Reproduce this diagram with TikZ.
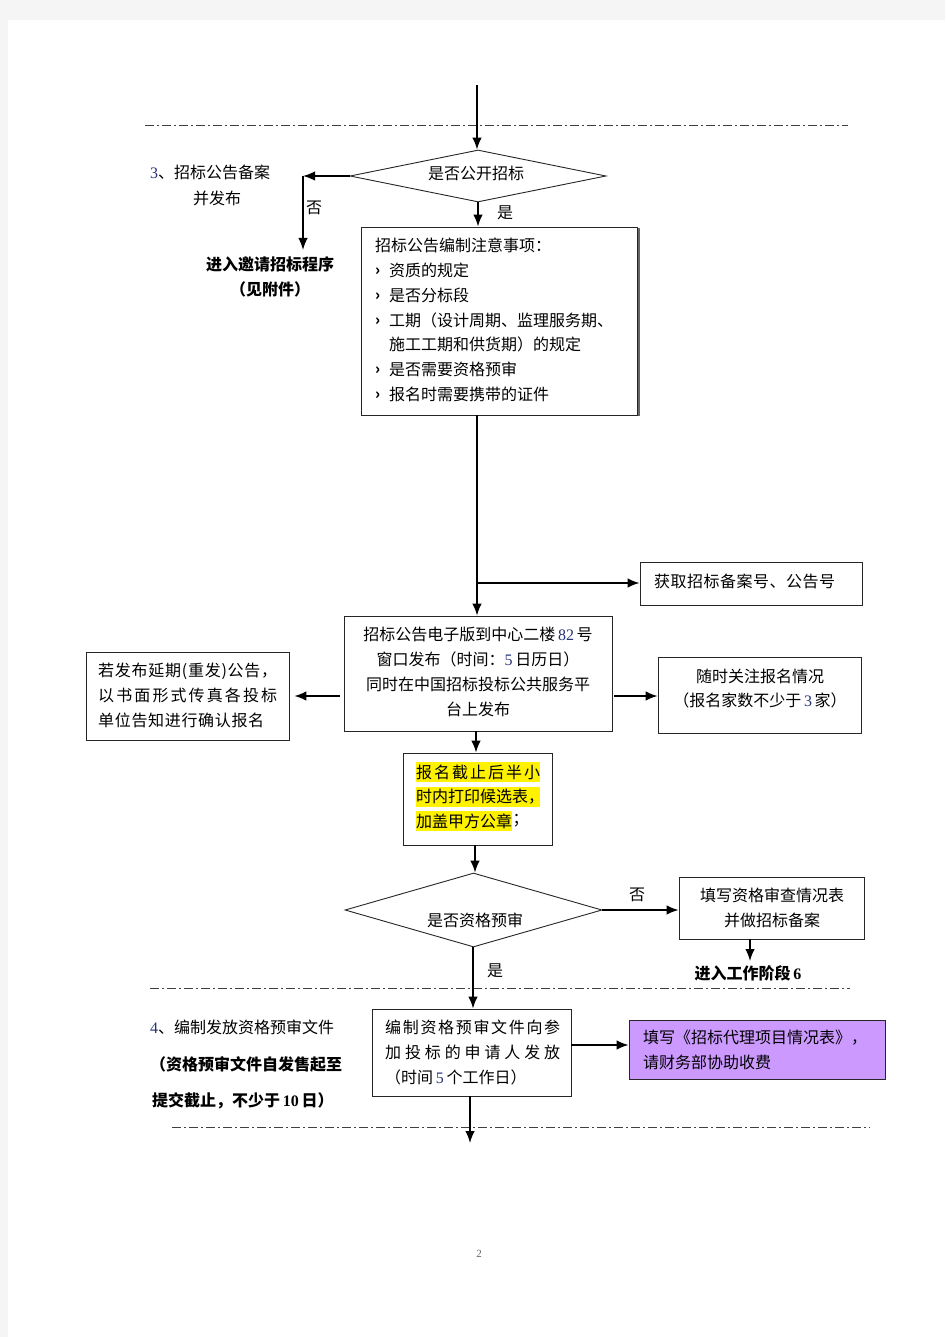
\documentclass[tikz,border=0pt]{standalone}
\usepackage{fontspec}
\setmainfont{Noto Sans CJK SC}
\newfontfamily\tnr{Liberation Serif}
\usetikzlibrary{arrows.meta,shapes.geometric}
\definecolor{numcol}{RGB}{40,50,120}
\definecolor{purp}{RGB}{204,153,255}
\newcommand\nm[1]{{\tnr\color{numcol}#1}}
\def\spr#1{\sprloop#1\relax}
\def\sprloop#1{\ifx#1\relax\else#1\expandafter\sprnext\fi}
\def\sprnext#1{\ifx#1\relax\else\hfill#1\expandafter\sprnext\fi}
\newcommand\J[2]{\makebox[#1][s]{\spr{#2}}}
\newcommand\bul{\makebox[14pt][l]{\raisebox{0.5pt}{\fontsize{15}{15}\selectfont\bfseries ›}}}
\begin{document}
\begin{tikzpicture}[x=1pt,y=-1pt,
  box/.style={draw=black!85, line width=0.9pt, inner sep=0pt},
  dia/.style={diamond, draw=black!85, line width=0.9pt, inner sep=0pt},
  arr/.style={-{Latex[length=12pt,width=9.5pt]}, line width=1.5pt},
  dd/.style={line width=0.8pt, draw=black!75, dash pattern=on 9pt off 3pt on 2pt off 3pt},
  txt/.style={font=\fontsize{16}{16}\selectfont, inner sep=0pt},
  btxt/.style={font=\fontsize{16}{16}\selectfont\bfseries, inner sep=0pt},
  hl/.style={txt, fill=yellow, inner ysep=2.5pt},
]
\fill[black!4] (0,0) rectangle (945,1337);
\fill[white] (8,20) rectangle (945,1337);
\useasboundingbox (0,0) rectangle (945,1337);

% dash-dot separators
\coordinate (s1a) at (145,125); \coordinate (s1b) at (848,125);
\coordinate (s2a) at (150,988); \coordinate (s2b) at (850,988);
\coordinate (s3a) at (172,1127); \coordinate (s3b) at (870,1127);
\draw[dd] (s1a) -- (s1b);
\draw[dd] (s2a) -- (s2b);
\draw[dd] (s3a) -- (s3b);

% shapes
\node[dia, minimum width=256pt, minimum height=52pt] (d1) at (478,176) {};
\fill[black!60] (363,228.5) rectangle (639.5,416);
\node[box, fill=white, minimum width=276pt, minimum height=188pt] (b1) at (499,321) {};
\node[box, minimum width=222pt, minimum height=43pt] (b3) at (751,583.5) {};
\node[box, minimum width=268pt, minimum height=115pt] (b2) at (478,673.5) {};
\node[box, minimum width=203pt, minimum height=88pt] (bl) at (187.5,696) {};
\node[box, minimum width=203pt, minimum height=76pt] (br) at (759.5,695) {};
\node[box, minimum width=149pt, minimum height=92pt] (yb) at (477.5,799) {};
\node[dia, minimum width=257pt, minimum height=74pt] (d2) at (473.5,910) {};
\node[box, minimum width=185pt, minimum height=62pt] (bf) at (771.5,908) {};
\node[box, minimum width=199pt, minimum height=87pt] (b4) at (471.5,1052.5) {};
\node[box, fill=purp, minimum width=256pt, minimum height=59pt] (bp) at (757,1049.5) {};

% connectors
\coordinate (top) at (477,85);
\draw[arr] (top) -- (top |- d1.north);
\coordinate (c1) at (303,176);
\coordinate (c2) at (303,250);
\draw[arr] (d1.west) -- (c1);
\draw[arr] (c1) -- (c2);
\draw[arr] (d1.south) -- (d1.south |- b1.north);
\coordinate (v1) at (477,415);
\draw[arr] (v1) -- (v1 |- b2.north);
\coordinate (j1) at (477,583);
\draw[arr] (j1) -- (j1 -| b3.west);
\coordinate (la) at (340,696);
\draw[arr, shorten >=5pt] (la) -- (bl.east);
\coordinate (ra) at (614,696);
\draw[arr] (ra) -- (ra -| br.west);
\coordinate (ya) at (476,731);
\draw[arr] (ya) -- (ya |- yb.north);
\coordinate (yb2) at (475,845);
\draw[arr] (yb2) -- (yb2 |- d2.north);
\draw[arr] (d2.east) -- (d2.east -| bf.west);
\coordinate (f1) at (750,939);
\coordinate (f2) at (750,961);
\draw[arr] (f1) -- (f2);
\coordinate (d2s) at (473,947);
\draw[arr] (d2s) -- (d2s |- b4.north);
\coordinate (pa) at (571,1045);
\draw[arr] (pa) -- (pa -| bp.west);
\coordinate (e1) at (470,1096);
\coordinate (e2) at (470,1143);
\draw[arr] (e1) -- (e2);

% texts
\node[txt, anchor=center] (t1) at (476,173) {是否公开招标};
\node[txt, anchor=west] (t2) at (150,172) {\nm{3}、招标公告备案};
\node[txt] (t3) at (217,198) {并发布};
\node[txt] (t4) at (314,208) {否};
\node[txt] (t5) at (505,213) {是};
\node[btxt] (t6) at (270,264) {进入邀请招标程序};
\node[btxt] (t7) at (270,289) {（见附件）};

\node[txt, anchor=west] (h0) at (375,245) {招标公告编制注意事项：};
\node[txt, anchor=west] (h1) at (375,270) {\bul 资质的规定};
\node[txt, anchor=west] (h2) at (375,295) {\bul 是否分标段};
\node[txt, anchor=west] (h3) at (375,320) {\bul 工期（设计周期、监理服务期、};
\node[txt, anchor=west] (h4) at (389,344) {施工工期和供货期）的规定};
\node[txt, anchor=west] (h5) at (375,369) {\bul 是否需要资格预审};
\node[txt, anchor=west] (h6) at (375,394) {\bul 报名时需要携带的证件};

\node[txt, anchor=west] (g1) at (654,581) {\J{181pt}{获取招标备案号、公告号}};

\node[txt] (m1) at (478,634) {招标公告电子版到中心二楼\,\nm{82}\,号};
\node[txt] (m2) at (478,659) {窗口发布（时间：\nm{5}\,日历日）};
\node[txt] (m3) at (478,684) {同时在中国招标投标公共服务平};
\node[txt] (m4) at (478,709) {台上发布};

\node[txt, anchor=west] (l1) at (98,671) {\J{179pt}{若发布延期(重发)公告，}};
\node[txt, anchor=west] (l2) at (98,695) {\J{179pt}{以书面形式传真各投标}};
\node[txt, anchor=west] (l3) at (98,720) {\J{166pt}{单位告知进行确认报名}};

\node[txt] (r1) at (760,676) {随时关注报名情况};
\node[txt] (r2) at (760,700) {（报名家数不少于\,\nm{3}\,家）};

\node[hl, anchor=west] (y1) at (416,772) {\J{124pt}{报名截止后半小}};
\node[hl, anchor=west] (y2) at (416,797) {\J{124pt}{时内打印候选表，}};
\node[hl, anchor=west] (y3) at (416,821) {加盖甲方公章};
\node[txt, anchor=west] (y4) at (y3.east) {；};

\node[txt] (t8) at (475,920) {是否资格预审};
\node[txt] (t9) at (637,895) {否};
\node[txt] (t10) at (495,971) {是};
\node[txt] (f3) at (772,895) {填写资格审查情况表};
\node[txt] (f4) at (772,920) {并做招标备案};
\node[btxt] (f5) at (748,973) {进入工作阶段\,{\tnr\bfseries 6}};

\node[txt, anchor=west] (q1) at (150,1027) {\nm{4}、编制发放资格预审文件};
\node[btxt, anchor=west] (q2) at (150,1064) {（资格预审文件自发售起至};
\node[btxt, anchor=west] (q3) at (152,1101) {提交截止，不少于\,{\tnr\bfseries 10}\,日）};

\node[txt, anchor=west] (k1) at (385,1027) {\J{175pt}{编制资格预审文件向参}};
\node[txt, anchor=west] (k2) at (385,1052) {\J{175pt}{加投标的申请人发放}};
\node[txt, anchor=west] (k3) at (385,1077) {（时间\,\nm{5}\,个工作日）};

\node[txt, anchor=west] (p1) at (643,1038) {填写《招标代理项目情况表》，};
\node[txt, anchor=west] (p2) at (643,1062) {请财务部协助收费};

\node[inner sep=0pt, font=\tnr\fontsize{11}{11}\selectfont, text=black!60] (pg) at (479,1254) {2};
\end{tikzpicture}
\end{document}
